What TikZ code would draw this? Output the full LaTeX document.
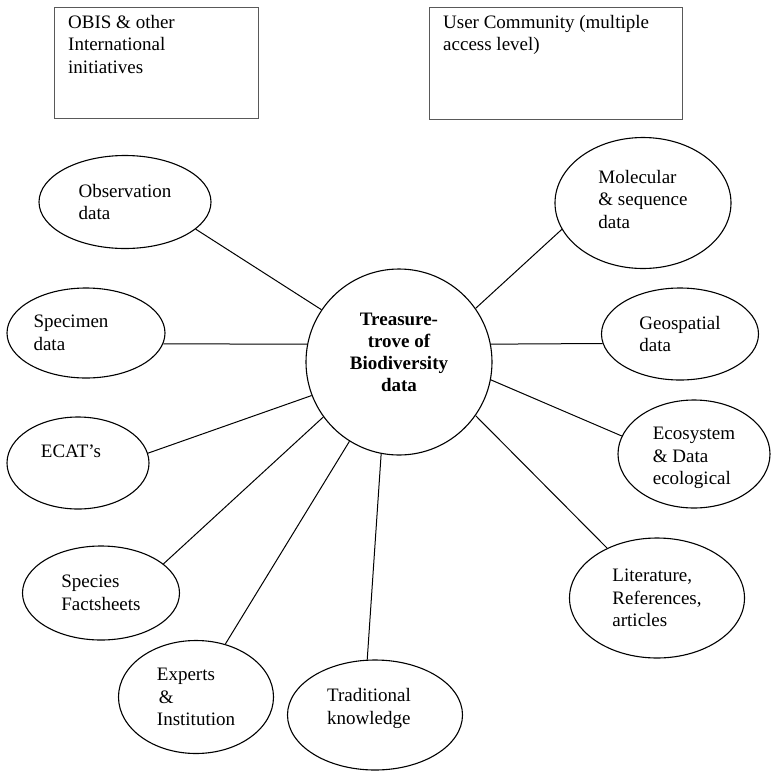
\documentclass[tikz,border=0pt]{standalone}
\usepackage{fontspec}
\setmainfont{Liberation Serif}
\usetikzlibrary{shapes.geometric}
\begin{document}
\begin{tikzpicture}[x=1pt,y=-1pt,
  txt/.style={font=\fontsize{19}{22.5}\selectfont, align=left},
  bubble/.style={ellipse, draw, line width=1.1pt, inner sep=0pt, txt},
  infobox/.style={draw, line width=1pt, gray!70!black},
  link/.style={line width=1pt}]
\useasboundingbox (0,0) rectangle (771,772);
% top boxes
\draw[infobox] (54,7) rectangle (258,118);
\node[txt, anchor=north west, inner sep=0pt] (obis) at (68,15) {OBIS \& other\\International\\initiatives};
\draw[infobox] (429,7) rectangle (682,119);
\node[txt, anchor=north west, inner sep=0pt] (user) at (443,15) {User Community (multiple\\access level)};
% centre
\node[circle, draw, line width=1.1pt, minimum size=186pt, inner sep=0pt,
      font=\fontsize{19}{22}\selectfont\bfseries, align=center] (hub) at (399,362)
      {Treasure-\\trove of\\Biodiversity\\data\\[-2pt]\mbox{}};
% satellites
\node[bubble, minimum width=172pt, minimum height=93pt] (obs) at (125,202) {Observation\\data};
\node[bubble, minimum width=158pt, minimum height=90pt] (spec) at (86,333) {Specimen\hspace*{30pt}\\data};
\node[bubble, minimum width=142pt, minimum height=92pt] (ecat) at (78,463) {ECAT's\hspace*{14pt}\\[1.5pt]\mbox{}};
\node[bubble, minimum width=157pt, minimum height=94pt] (species) at (101,593) {Species\\Factsheets};
\node[bubble, minimum width=155pt, minimum height=113pt] (expert) at (196,697) {Experts\\\hspace*{2pt}\&\\Institution};
\node[bubble, minimum width=175pt, minimum height=110pt] (trad) at (375,715) {Traditional\hspace*{12pt}\\knowledge\\[-5pt]\mbox{}};
\node[bubble, minimum width=176pt, minimum height=131pt] (mol) at (643,203) {Molecular\\\& sequence\\data\\[-14.5pt]\mbox{}};
\node[bubble, minimum width=157pt, minimum height=92pt] (geo) at (680,334) {Geospatial\\data};
\node[bubble, minimum width=152pt, minimum height=108pt] (eco) at (694,454) {\mbox{}\\[-1.5pt]Ecosystem\\\& Data\\ecological};
\node[bubble, minimum width=175pt, minimum height=120pt] (lit) at (657,598) {Literature,\\References,\hspace*{12pt}\\articles};
% connectors
\draw[link] (hub.146.6) -- (obs.-21.3);
\draw[link] (hub.169) -- (spec.-8);
\draw[link] (hub.201.5) -- (ecat.8.8);
\draw[link] (hub.216) -- (species.25);
\draw[link] (hub.238) -- (expert.61.5);
\draw[link] (hub.259.5) -- (trad.98);
\draw[link] (hub.35.7) -- (mol.198);
\draw[link] (hub.11) -- (geo.187);
\draw[link] (hub.-11.3) -- (eco.166);
\draw[link] (hub.-35.3) -- (lit.135.5);
\end{tikzpicture}
\end{document}
